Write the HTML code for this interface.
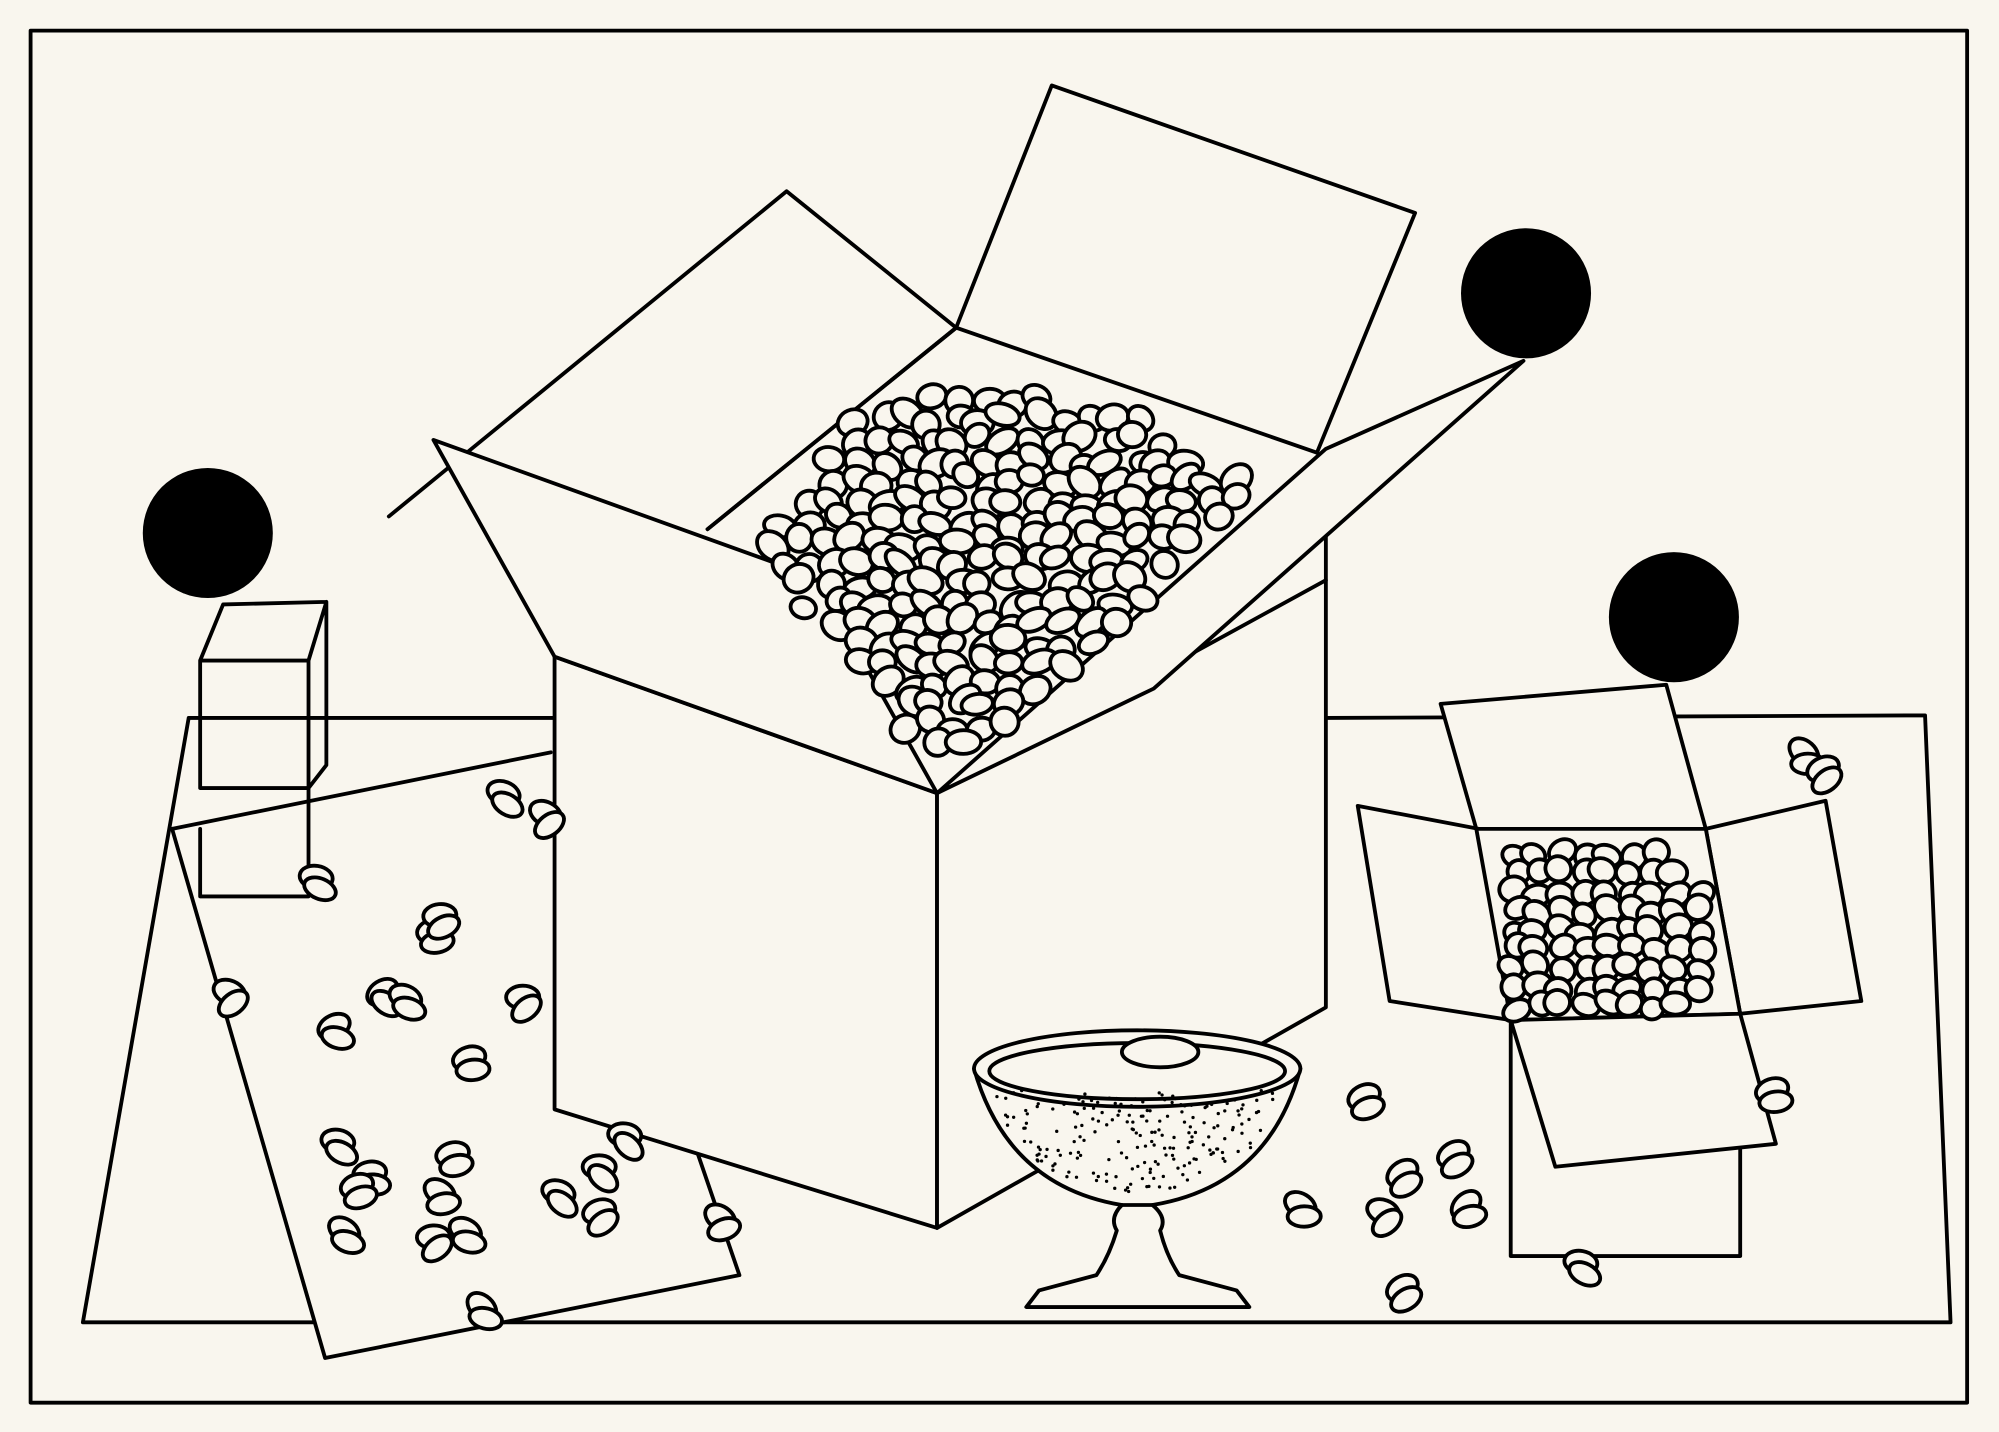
<!DOCTYPE html>
<html><head><meta charset="utf-8"><style>
html,body{margin:0;padding:0;background:#f9f6ee;}
svg{display:block;}
</style></head><body>
<svg id="s" width="1999" height="1432" viewBox="0 0 1568 1123" preserveAspectRatio="none" xmlns="http://www.w3.org/2000/svg">
<rect width="1568" height="1123" fill="#f9f6ee"/>
<g fill="none" stroke="#000" stroke-width="3" stroke-linejoin="round" stroke-linecap="round">
<rect x="24" y="24" width="1519" height="1076"/>
<path d="M148 563 L435 563 M1040 563 L1510 561 L1530 1037 L65 1037 L148 563"/>
<path d="M135 650 L432 590 M135 650 L255 1065 L580 1000 L545 898" fill="#f9f6ee"/>
<path d="M157 518 L175 474 L256 472 L242 518 Z M242 518 L256 472 L256 600 L242 618 M157 518 L242 518 L242 618 L157 618 Z M157 650 L157 703 L242 703 M242 618 L242 690"/>
<path d="M435 515 L435 870 L735 963 L735 622 Z" fill="#f9f6ee"/>
<path d="M735 622 L1040 455 L1040 790 L735 963 Z" fill="#f9f6ee"/>
<path d="M1040 455 L1040 420"/>
<path d="M750 257 L825 67 L1110 167 L1033 355" fill="#f9f6ee"/>
<path d="M305 405 L617 150 L750 257 L555 415" fill="#f9f6ee"/>
<path d="M555 415 L750 257 L1033 355" />
<path d="M435 515 L340 345 L640 453 L735 622 Z" fill="#f9f6ee"/>
<path d="M735 622 L905 540 L1195 283 L1040 352 L735 622" fill="#f9f6ee"/>
<path d="M1130 552 L1307 537 L1338 650 L1158 650 Z" fill="#f9f6ee"/>
<path d="M1065 632 L1160 650 L1185 800 L1090 785 Z" fill="#f9f6ee"/>
<path d="M1338 650 L1432 628 L1460 785 L1365 795 Z" fill="#f9f6ee"/>
<path d="M1158 650 L1338 650 L1365 795 L1185 800 Z" fill="#f9f6ee"/>
<path d="M1185 800 L1185 985 L1365 985 L1365 897" fill="#f9f6ee"/>
<path d="M1185 800 L1365 795 L1393 897 L1220 915 Z" fill="#f9f6ee"/>
<path d="M764 838 Q790 930 880 945 L904 945 Q995 930 1020 838" fill="#f9f6ee"/>
<ellipse cx="892" cy="838" rx="128" ry="30" fill="#f9f6ee"/>
<ellipse cx="892" cy="840" rx="116" ry="22"/>
<path d="M880 945 Q870 955 876 965 Q870 985 860 1000 L815 1012 L805 1025 L980 1025 L970 1012 L925 1000 Q915 985 910 965 Q916 955 904 945"/>
<ellipse cx="910" cy="825" rx="30" ry="12" fill="#f9f6ee"/>
</g>
<g id="beans" fill="#f9f6ee" stroke="#000" stroke-width="3"></g>
<g id="dots" fill="#000"></g>
<circle cx="163" cy="418" r="51" fill="#000"/>
<circle cx="1197" cy="230" r="51" fill="#000"/>
<circle cx="1313" cy="484" r="51" fill="#000"/>
</svg>
<script>
var s=7;function r(){s=(s*16807)%2147483647;return s/2147483647;}
var B=document.getElementById('beans'),out='';
function bean(x,y,a,b){out+='<ellipse cx="'+x.toFixed(1)+'" cy="'+y.toFixed(1)+'" rx="'+a.toFixed(1)+'" ry="'+b.toFixed(1)+'" transform="rotate('+((r()*90-45)|0)+' '+x.toFixed(1)+' '+y.toFixed(1)+')"/>';}
function inPoly(x,y,p){var c=false;for(var i=0,j=p.length-1;i<p.length;j=i++){if(((p[i][1]>y)!=(p[j][1]>y))&&(x<(p[j][0]-p[i][0])*(y-p[i][1])/(p[j][1]-p[i][1])+p[i][0]))c=!c;}return c;}
var big=[[595,435],[660,335],[755,295],[900,325],[985,385],[900,470],[740,612],[700,560]];
for(var yy=295;yy<620;yy+=16)for(var xx=590;xx<1000;xx+=20){var x=xx+r()*12-4,y=yy+r()*10-3;if(inPoly(x,y,big))bean(x,y,10+r()*4,8+r()*3);}
var sm=[[1168,680],[1200,666],[1300,663],[1338,690],[1345,790],[1190,797]];
for(var yy=668;yy<800;yy+=15)for(var xx=1168;xx<1345;xx+=18){var x=xx+r()*8-2,y=yy+r()*7-2;if(inPoly(x,y,sm))bean(x,y,9+r()*3,8+r()*2);}
var sc=[[395,622],[340,730],[345,718],[180,778],[300,778],[318,782],[410,782],[262,805],[368,830],[265,895],[290,920],[355,905],[280,930],[345,935],[490,890],[470,915],[438,935],[470,950],[565,955],[270,965],[340,970],[365,965],[378,1025],[248,688],[428,638],[1070,860],[1390,855],[1020,945],[1100,920],[1140,905],[1085,950],[1150,945],[1100,1010],[1240,990],[1415,590],[1430,603]];
sc.forEach(function(p){bean(p[0],p[1],13,9);bean(p[0]+3,p[1]+9,13,8);});
B.innerHTML=out;
var d='';for(var i=0;i<260;i++){var x=780+r()*225,y=855+r()*80;if(((x-892)/112)**2+((y-850)/85)**2<1&&y>852)d+='<circle cx="'+x.toFixed(1)+'" cy="'+y.toFixed(1)+'" r="1.3"/>';}
document.getElementById('dots').innerHTML=d;
</script>
</body></html>
